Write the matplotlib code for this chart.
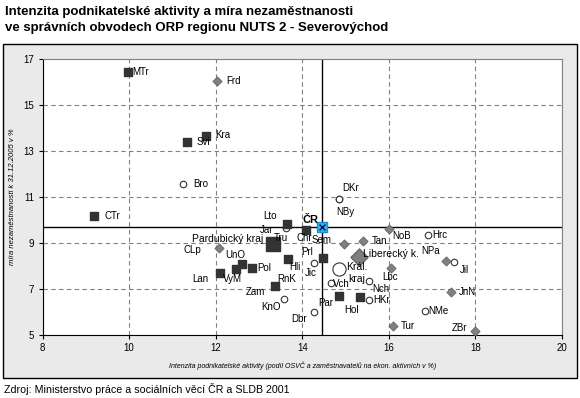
import matplotlib
matplotlib.use('Agg')
from matplotlib import pyplot as plt
from matplotlib.patches import Rectangle

plt.rcParams['font.family'] = ['Liberation Sans', 'DejaVu Sans']

# Pardubicky kraj (black squares)
names_pa = ['MTr', 'Kra', 'Svi', 'CTr', 'Lto', 'Chr', 'Hli', 'Prl', 'UnO', 'VyM', 'Pol', 'Lan', 'Zam', 'Par', 'Hol']
x_pa = [9.97, 11.78, 11.34, 9.20, 13.64, 14.08, 13.66, 14.47, 12.60, 12.47, 12.85, 12.10, 13.38, 14.85, 15.33]
y_pa = [16.42, 13.66, 13.37, 10.17, 9.82, 9.56, 8.31, 8.36, 8.09, 7.88, 7.91, 7.70, 7.14, 6.69, 6.63]

# Liberecky kraj (grey diamonds)
names_li = ['Frd', 'CLp', 'Sem', 'Tan', 'NoB', 'Lbc', 'Jil', 'JnN', 'Tur', 'ZBr']
x_li = [12.04, 12.08, 14.97, 15.41, 16.01, 16.05, 17.33, 17.43, 16.10, 17.99]
y_li = [16.05, 8.79, 8.94, 9.10, 9.61, 7.92, 8.22, 6.87, 5.38, 5.17]

# Kralovehradecky kraj (white circles)
names_kh = ['Bro', 'DKr', 'NBy', 'Jar', 'Tru', 'Jic', 'RnK', 'KnO', 'Dbr', 'Vch', 'Nch', 'HKr', 'Hrc', 'NPa', 'NMe']
x_kh = [11.25, 14.84, 14.84, 13.62, 13.40, 14.26, 13.38, 13.57, 14.26, 14.66, 15.55, 15.54, 16.91, 17.51, 16.83]
y_kh = [11.57, 10.91, 10.91, 9.64, 9.00, 8.11, 7.14, 6.57, 6.00, 7.24, 7.34, 6.51, 9.36, 8.15, 6.03]

# kraje as a whole
kraj_names = ['Pardubický kraj', 'Liberecký k.', 'Král.\nkraj']
kraj_x = [13.32, 15.31, 14.84]
kraj_y = [8.94, 8.40, 7.85]

# Czech republic average
cr_x = 14.45
cr_y = 9.67

x_ticks = [8, 10, 12, 14, 16, 18, 20]
y_ticks = [5, 7, 9, 11, 13, 15, 17]

# label offsets in pixels (dx, dy, ha)
offs = {
    'MTr': (4, 0, 'left'), 'Frd': (9, 0, 'left'), 'Kra': (9, 1, 'left'), 'Svi': (9, 0, 'left'),
    'Bro': (10, 0, 'left'), 'CTr': (10, 0, 'left'), 'Lto': (-10, 8, 'right'), 'Jar': (-12, -2, 'right'),
    'Tru': (-2, 5, 'left'), 'Chr': (-1, -8, 'center'), 'CLp': (-18, -2, 'right'), 'UnO': (-6, 9, 'center'),
    'Pol': (5, 0, 'left'), 'VyM': (-4, -10, 'center'), 'Lan': (-12, -6, 'right'), 'Hli': (2, -8, 'left'),
    'RnK': (2, 7, 'left'), 'Zam': (-10, -6, 'right'), 'KnO': (-3, -8, 'right'), 'Dbr': (-7, -7, 'right'),
    'Jic': (-3, -10, 'center'), 'Prl': (-10, 6, 'right'), 'Sem': (-13, 4, 'right'), 'Tan': (8, 0, 'left'),
    'NoB': (3, -7, 'left'), 'Hrc': (4, 0, 'left'), 'Vch': (2, -1, 'left'), 'Nch': (3, -8, 'left'),
    'HKr': (4, 0, 'left'), 'Hol': (-1, -13, 'right'), 'Par': (-6, -7, 'right'), 'Lbc': (-1, -9, 'center'),
    'NPa': (-14, 11, 'right'), 'Jil': (13, -9, 'left'), 'JnN': (8, 0, 'left'), 'NMe': (3, 0, 'left'),
    'ZBr': (-8, 3, 'right'), 'Tur': (8, 0, 'left'), 'DKr': (4, 11, 'left'), 'NBy': (-2, -13, 'left'),
    'Pardubický kraj': (-10, 5, 'right'), 'Liberecký k.': (4, 3, 'left'), 'Král.\nkraj': (18, -4, 'center'),
}

fig = plt.figure(figsize=(5.8, 3.98), dpi=100)
fig.patch.set_facecolor('white')
fig.patches.append(Rectangle((0.0052, 0.0503), 0.9897, 0.8392, transform=fig.transFigure,
                             facecolor='#eaeaea', edgecolor='black', linewidth=1.0, zorder=-5))

ax = fig.add_axes([0.0733, 0.159, 0.8957, 0.6927])
ax.set_zorder(1)
ax.set_facecolor('white')
ax.set_xlim(8, 20)
ax.set_ylim(5, 17)
ax.set_xticks(x_ticks)
ax.set_yticks(y_ticks)
ax.tick_params(labelsize=7, length=3, width=0.8, direction='out', pad=3)
for s in ['top', 'right']:
    ax.spines[s].set_color('#808080')
for s in ['left', 'bottom']:
    ax.spines[s].set_color('black')
ax.grid(True, color='#808080', linestyle=(0, (4, 3)), linewidth=0.8)
ax.set_axisbelow(True)

ax.axvline(cr_x, color='black', linewidth=1.0, zorder=2)
ax.axhline(cr_y, color='black', linewidth=1.0, zorder=2)

ax.scatter(x_kh, y_kh, marker='o', s=22, facecolor='white', edgecolor='#333333', linewidth=0.8, zorder=3)
ax.scatter(x_li, y_li, marker='D', s=22, facecolor='#808080', edgecolor='#666666', linewidth=0.6, zorder=4)
ax.scatter(x_pa, y_pa, marker='s', s=30, facecolor='#333333', edgecolor='#333333', zorder=5)

ax.scatter(kraj_x[0], kraj_y[0], marker='s', s=110, facecolor='#333333', edgecolor='#333333', zorder=5)
ax.scatter(kraj_x[1], kraj_y[1], marker='D', s=75, facecolor='#808080', edgecolor='#666666', zorder=5)
ax.scatter(kraj_x[2], kraj_y[2], marker='o', s=90, facecolor='white', edgecolor='#333333', linewidth=0.8, zorder=5)

ax.scatter(cr_x, cr_y, marker='s', s=60, facecolor='#33b5e8', edgecolor='#1a8fd0', zorder=6)
ax.scatter(cr_x, cr_y, marker='x', s=18, color='#001a66', linewidth=1.0, zorder=7)

for nm, xs, ys in [(names_pa, x_pa, y_pa), (names_li, x_li, y_li), (names_kh, x_kh, y_kh)]:
    for n, xv, yv in zip(nm, xs, ys):
        dx, dy, ha = offs[n]
        ax.annotate(n, (xv, yv), xytext=(dx, dy), textcoords='offset pixels',
                    ha=ha, va='center', fontsize=7, zorder=8)

for n, xv, yv in zip(kraj_names, kraj_x, kraj_y):
    dx, dy, ha = offs[n]
    ax.annotate(n, (xv, yv), xytext=(dx, dy), textcoords='offset pixels',
                ha=ha, va='center', fontsize=7.5, multialignment='center', linespacing=1.3, zorder=8)

ax.annotate('ČR', (cr_x, cr_y), xytext=(-3, 7), textcoords='offset pixels',
            ha='right', va='center', fontsize=8, fontweight='bold', zorder=8)

ax.set_xlabel('Intenzita podnikatelské aktivity (podíl OSVČ a zaměstnavatelů na ekon. aktivních v %)',
              fontsize=5, style='italic', labelpad=6)
ax.set_ylabel('míra nezaměstnanosti k 31.12.2005 v %', fontsize=5.5, style='italic', labelpad=5)

fig.text(0.009, 0.985, 'Intenzita podnikatelské aktivity a míra nezaměstnanosti\n'
         've správních obvodech ORP regionu NUTS 2 - Severovýchod',
         ha='left', va='top', fontsize=9.5, fontweight='bold', linespacing=1.5)
fig.text(0.007, 0.022, 'Zdroj: Ministerstvo práce a sociálních věcí ČR a SLDB 2001',
         ha='left', va='center', fontsize=7.7)

fig.savefig('out.png', dpi=100)
